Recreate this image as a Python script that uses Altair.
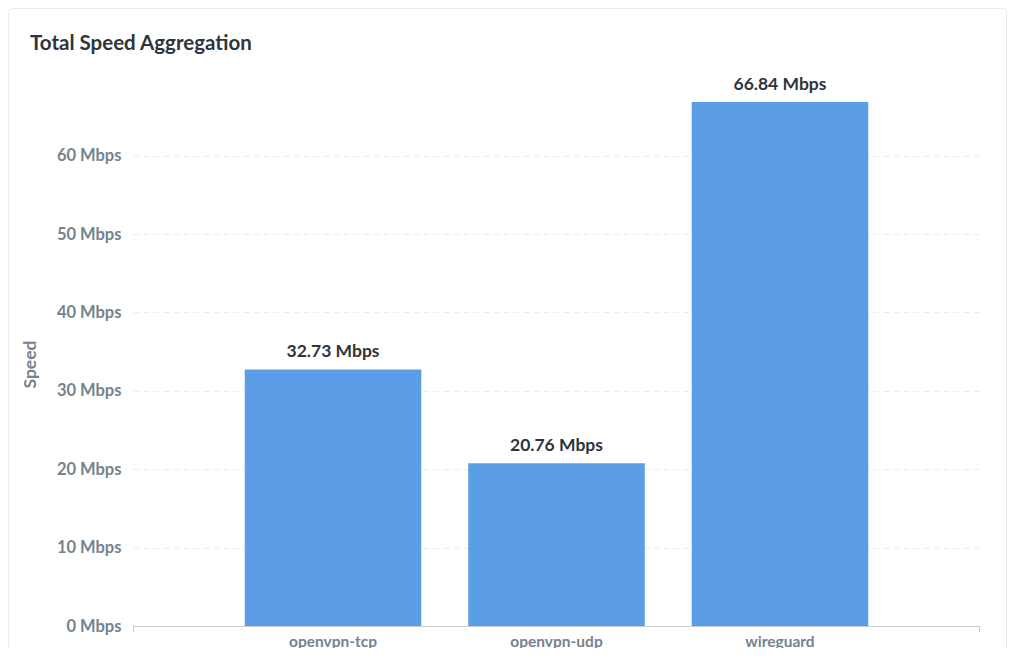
import altair as alt
import pandas as pd

protocols = ["openvpn-tcp", "openvpn-udp", "wireguard"]
speeds = [32.73, 20.76, 66.84]
tick_values = [0, 10, 20, 30, 40, 50, 60]
title_text = "Total Speed Aggregation"

df = pd.DataFrame({"protocol": protocols, "speed": speeds})
df["label"] = [f"{v:.2f} Mbps" for v in speeds]

W, H = 847, 524
FONT = "Lato"

x_enc = alt.X(
    "protocol:N",
    sort=protocols,
    scale=alt.Scale(paddingInner=0.21, paddingOuter=0.5),
    axis=alt.Axis(
        title=None, labelAngle=0, ticks=False, domain=True,
        domainColor="#CCCCCC", labelColor="#74838F", labelFont=FONT,
        labelFontSize=15.5, labelFontWeight="bold", labelPadding=8, grid=False,
    ),
)
y_enc = alt.Y(
    "speed:Q",
    scale=alt.Scale(domain=[0, 66.84], nice=False),
    axis=alt.Axis(
        title="Speed", values=tick_values, labelExpr="datum.value + ' Mbps'",
        ticks=False, domain=False, grid=True, gridColor="#EDEDED",
        gridDash=[6, 4], labelColor="#74838F", labelFont=FONT,
        labelFontSize=16.5, labelFontWeight="bold", labelPadding=12,
        titleColor="#74838F", titleFont=FONT, titleFontSize=17.5,
        titleFontWeight="bold", titlePadding=17,
    ),
)

bars = alt.Chart(df).mark_bar(color="#5B9DE6").encode(x=x_enc, y=y_enc)
labels = alt.Chart(df).mark_text(
    font=FONT, fontSize=17.5, fontWeight="bold", color="#2E353B",
    baseline="alphabetic", dy=-12,
).encode(x=alt.X("protocol:N", sort=protocols), y="speed:Q", text="label:N")

one = pd.DataFrame({"k": [1]})
card = alt.Chart(one).mark_rect(
    fill="transparent", stroke="#EAEAEA", strokeWidth=1, cornerRadius=4, clip=False
).encode(
    x=alt.value(-124.5), x2=alt.value(W + 26.5),
    y=alt.value(-93.5), y2=alt.value(H + 60),
)
tick_l = alt.Chart(one).mark_rect(color="#CCCCCC").encode(
    x=alt.value(0), x2=alt.value(1), y=alt.value(H), y2=alt.value(H + 6))
tick_r = alt.Chart(one).mark_rect(color="#CCCCCC").encode(
    x=alt.value(W - 1), x2=alt.value(W), y=alt.value(H), y2=alt.value(H + 6))
title = alt.Chart(one).mark_text(
    font=FONT, fontSize=20.5, fontWeight="bold", color="#2E353B",
    align="left", baseline="alphabetic",
).encode(x=alt.value(-103), y=alt.value(-52), text=alt.value(title_text))

chart = alt.layer(card, tick_l, tick_r, bars, labels, title).properties(
    width=W, height=H,
    background="white",
    autosize=alt.AutoSizeParams(type="none"),
    padding={"left": 125, "top": 94, "right": 28, "bottom": 22},
).configure_view(strokeOpacity=0, strokeWidth=0)

chart.save("out.html", embed_options={"renderer": "svg", "actions": False})
